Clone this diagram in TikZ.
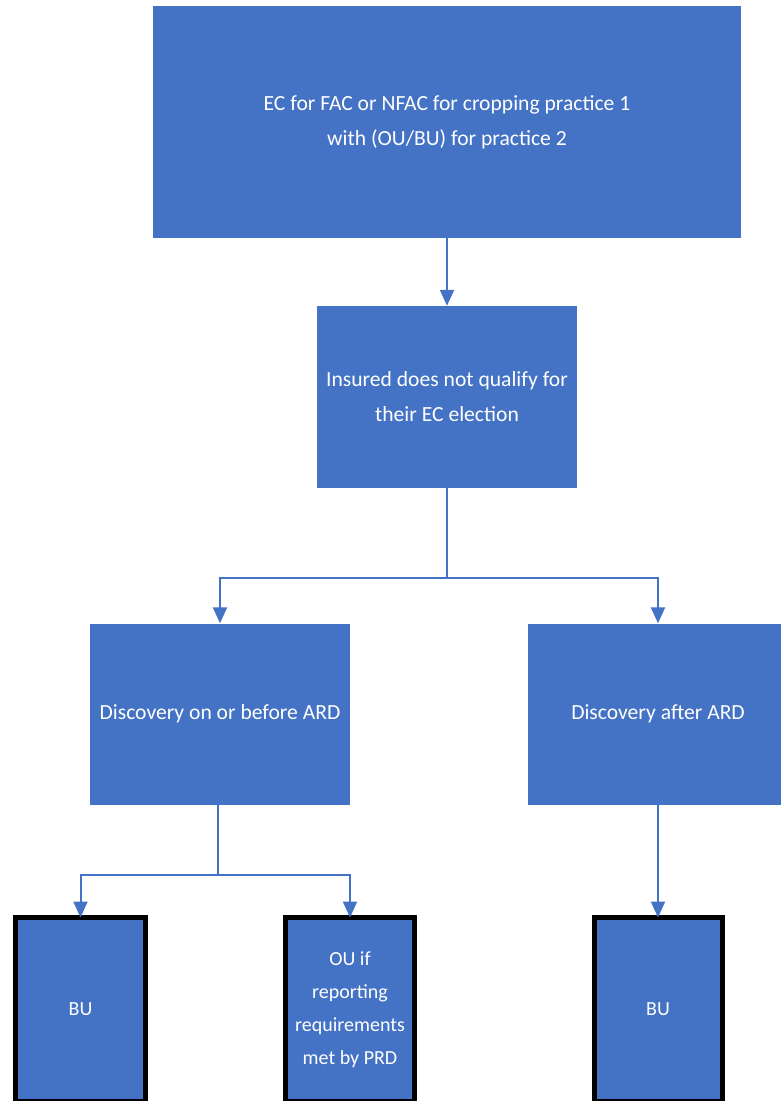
\documentclass[tikz,border=0pt]{standalone}
\usepackage{fontspec}
\setmainfont{Carlito}
\usetikzlibrary{arrows.meta}
\definecolor{obox}{HTML}{4472C4}
\tikzset{
  x=1pt, y=-1pt,
  box/.style={fill=obox, text=white, inner sep=0pt, align=center,
    font=\fontsize{21.6}{35}\selectfont},
  leaf/.style={box, draw=black, line width=5pt, font=\fontsize{20}{33}\selectfont},
  conn/.style={draw=obox, line width=2pt},
  arr/.style={conn, -{Triangle[length=16pt,width=14pt]}}
}
\begin{document}
\begin{tikzpicture}
\useasboundingbox (0,0) rectangle (780,1101);
\node[box, minimum width=588pt, minimum height=232pt] (top) at (447,122)
  {EC for FAC or NFAC for cropping practice 1\\with (OU/BU) for practice 2};
\node[box, minimum width=260pt, minimum height=182pt] (ins) at (447,397)
  {Insured does not qualify for\\their EC election};
\node[box, minimum width=260pt, minimum height=181pt] (before) at (220,714)
  {Discovery on or before ARD};
\node[box, minimum width=260pt, minimum height=181pt] (after) at (658,714)
  {Discovery after ARD};
\node[leaf, minimum width=130pt, minimum height=184pt] (bu1) at (80.5,1009.5) {BU};
\node[leaf, minimum width=129pt, minimum height=184pt] (ou) at (350,1009.5)
  {OU if\\reporting\\requirements\\met by PRD};
\node[leaf, minimum width=128pt, minimum height=184pt] (bu2) at (658,1009.5) {BU};
\coordinate (j1) at (447,578);
\coordinate (j2) at (218,875);
\draw[arr] (top) -- (ins);
\draw[conn] (ins.south) -- (j1);
\draw[arr] (j1) -| (before.north);
\draw[arr] (j1) -| (after.north);
\draw[conn] (before.south -| j2) -- (j2);
\draw[arr] (j2) -| ([yshift=-2.5pt]bu1.north);
\draw[arr] (j2) -| ([yshift=-2.5pt]ou.north);
\draw[arr] (after.south) -- ([yshift=-2.5pt]bu2.north);
\end{tikzpicture}
\end{document}
